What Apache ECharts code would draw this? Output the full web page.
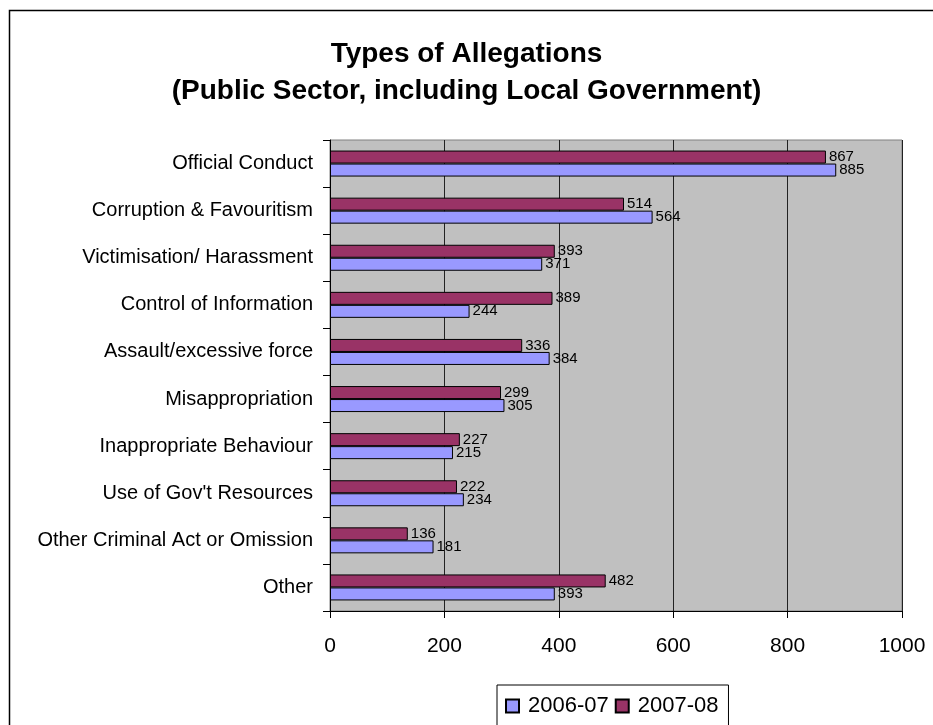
<!DOCTYPE html>
<html>
<head>
<meta charset="utf-8">
<script src="https://cdn.jsdelivr.net/npm/echarts@6/dist/echarts.min.js"></script>
<style>html,body{margin:0;padding:0;background:#fff}#c{width:933px;height:725px}</style>
</head>
<body>
<div id="c"></div>
<script>
const categories = ["Official Conduct","Corruption & Favouritism","Victimisation/ Harassment","Control of Information","Assault/excessive force","Misappropriation","Inappropriate Behaviour","Use of Gov't Resources","Other Criminal Act or Omission","Other"];
const values2006 = [885,564,371,244,384,305,215,234,181,393];
const values2007 = [867,514,393,389,336,299,227,222,136,482];
const xTicks = [0,200,400,600,800,1000];
const seriesNames = ["2006-07","2007-08"];

const FONT = "Liberation Sans, Arial, sans-serif";
const chart = echarts.init(document.getElementById('c'));
const lbl = {show:true, position:'right', distance:3, color:'#000', fontFamily:FONT, fontSize:15};
chart.setOption({
  animation:false,
  graphic:[{type:'rect', shape:{x:9.5,y:10.5,width:1000,height:1000}, style:{fill:'none', stroke:'#000', lineWidth:1.5}}],
  title:{text:'Types of Allegations\n(Public Sector, including Local Government)', left:'center', top:31,
    textStyle:{fontFamily:FONT, fontWeight:'bold', fontSize:28, lineHeight:37, color:'#000'}},
  legend:{data:seriesNames, left:497, top:685, itemWidth:13, itemHeight:13, itemGap:6, icon:'rect',
    borderColor:'#000', borderWidth:1, padding:[10,10,14,8],
    textStyle:{fontFamily:FONT, fontSize:22, color:'#000', padding:[0,0,0,4]}},
  grid:{left:330, right:31, top:140, bottom:114, show:true, backgroundColor:'#c0c0c0', borderColor:'#808080', borderWidth:1},
  xAxis:{type:'value', min:xTicks[0], max:xTicks[xTicks.length-1], interval:200,
    axisLine:{show:true, lineStyle:{color:'#000'}}, axisTick:{show:true, length:7, lineStyle:{color:'#000'}},
    axisLabel:{fontFamily:FONT, fontSize:21, color:'#000', margin:25, formatter:v=>String(v)},
    splitLine:{show:true, lineStyle:{color:'#222', width:1}}},
  yAxis:{type:'category', data:categories, inverse:true,
    axisLine:{show:true, lineStyle:{color:'#000'}}, axisTick:{show:true, length:7, lineStyle:{color:'#000'}},
    axisLabel:{fontFamily:FONT, fontSize:20, color:'#000', margin:17}},
  series:[
    {name:seriesNames[1], type:'bar', data:values2007, barWidth:13, barGap:'0%',
      itemStyle:{color:'#993366', borderColor:'#000', borderWidth:1}, label:lbl},
    {name:seriesNames[0], type:'bar', data:values2006, barWidth:13, barGap:'0%',
      itemStyle:{color:'#9999ff', borderColor:'#000', borderWidth:1}, label:lbl}
  ]
});
</script>
</body>
</html>
